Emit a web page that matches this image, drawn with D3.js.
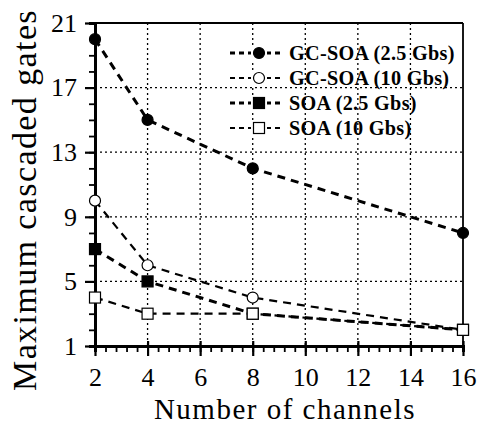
<!DOCTYPE html>
<html><head><meta charset="utf-8">
<script src="https://cdn.jsdelivr.net/npm/d3@7"></script>
<style>body{margin:0;background:#fff}</style>
</head><body>
<svg id="c" width="477" height="424"></svg>
<script>
const channels = [2, 4, 8, 16];
const gcSoa25 = [20, 15, 12, 8];
const gcSoa10 = [10, 6, 4, 2];
const soa25 = [7, 5, 3, 2];
const soa10 = [4, 3, 3, 2];
const seriesNames = ["GC-SOA (2.5 Gbs)", "GC-SOA (10 Gbs)", "SOA (2.5 Gbs)", "SOA (10 Gbs)"];
const xTicks = [2, 4, 6, 8, 10, 12, 14, 16];
const yTicks = [1, 5, 9, 13, 17, 21];

const series = [
  {name: seriesNames[0], vals: gcSoa25, shape: "circle", fill: "#000", w: 3},
  {name: seriesNames[1], vals: gcSoa10, shape: "circle", fill: "#fff", w: 2.2},
  {name: seriesNames[2], vals: soa25, shape: "square", fill: "#000", w: 3},
  {name: seriesNames[3], vals: soa10, shape: "square", fill: "#fff", w: 2.2}
];

const svg = d3.select("#c");
const L = 95, R = 463, T = 23, B = 346;
const x = d3.scaleLinear().domain([2, 16]).range([L, R]);
const y = d3.scaleLinear().domain([1, 21]).range([B, T]);
const font = "'Liberation Serif','Times New Roman',serif";

// grid
const g = svg.append("g");
g.selectAll(".gx").data(xTicks.slice(1, -1)).enter().append("line")
  .attr("x1", d => x(d)).attr("x2", d => x(d)).attr("y1", T).attr("y2", B)
  .attr("stroke", "#000").attr("stroke-width", 1.3).attr("stroke-dasharray", "2,3");
g.selectAll(".gy").data(yTicks.slice(1, -1)).enter().append("line")
  .attr("y1", d => y(d)).attr("y2", d => y(d)).attr("x1", L).attr("x2", R)
  .attr("stroke", "#000").attr("stroke-width", 1.3).attr("stroke-dasharray", "2,3");

// frame
svg.append("line").attr("x1", L).attr("x2", R).attr("y1", T).attr("y2", T)
  .attr("stroke", "#000").attr("stroke-width", 2.2);
svg.append("line").attr("x1", R).attr("x2", R).attr("y1", T).attr("y2", B)
  .attr("stroke", "#000").attr("stroke-width", 1.8);

// axes
const xMinor = d3.range(2, 16.001, 0.4);
const yMinor = d3.range(1, 21.001, 1);
const xa = svg.append("g").attr("transform", `translate(0,${B})`)
  .call(d3.axisBottom(x).tickValues(xMinor).tickSize(6).tickFormat(""));
xa.select(".domain").attr("stroke-width", 3);
xa.selectAll(".tick line").attr("stroke-width", 1.8);
const xb = svg.append("g").attr("transform", `translate(0,${B})`)
  .call(d3.axisBottom(x).tickValues(xTicks).tickSize(10).tickPadding(12));
xb.select(".domain").remove();
xb.selectAll(".tick line").attr("y1", -5).attr("stroke-width", 2.2);
xb.selectAll("text").attr("font-family", font).attr("font-size", 26).attr("fill", "#000");

const ya = svg.append("g").attr("transform", `translate(${L},0)`)
  .call(d3.axisLeft(y).tickValues(yMinor).tickSize(6).tickFormat(""));
ya.select(".domain").attr("stroke-width", 3);
ya.selectAll(".tick line").attr("stroke-width", 1.8);
const yb = svg.append("g").attr("transform", `translate(${L},0)`)
  .call(d3.axisLeft(y).tickValues(yTicks).tickSize(10).tickPadding(8));
yb.select(".domain").remove();
yb.selectAll(".tick line").attr("stroke-width", 2.2);
yb.selectAll("text").attr("font-family", font).attr("font-size", 26).attr("fill", "#000");

// titles
svg.append("text").attr("x", 285).attr("y", 419).attr("text-anchor", "middle")
  .attr("font-family", font).attr("font-size", 29).attr("letter-spacing", 1.5)
  .text("Number of channels");
svg.append("text").attr("transform", `translate(36,200) rotate(-90)`)
  .attr("text-anchor", "middle").attr("font-family", font).attr("font-size", 34)
  .attr("letter-spacing", 1.4).text("Maximum cascaded gates");

// series
const line = d3.line().x(d => x(d[0])).y(d => y(d[1]));
function marker(sel, shape, fill, cx, cy) {
  if (shape === "circle") {
    sel.append("circle").attr("cx", cx).attr("cy", cy).attr("r", 5.5)
      .attr("fill", fill).attr("stroke", "#000").attr("stroke-width", 1.2);
  } else {
    sel.append("rect").attr("x", cx - 5.5).attr("y", cy - 5.5).attr("width", 11).attr("height", 11)
      .attr("fill", fill).attr("stroke", "#000").attr("stroke-width", 1.2);
  }
}
series.forEach(s => {
  const pts = channels.map((c, i) => [c, s.vals[i]]);
  svg.append("path").attr("d", line(pts)).attr("fill", "none").attr("stroke", "#000")
    .attr("stroke-width", s.w).attr("stroke-dasharray", "8,6");
});
series.forEach(s => {
  const mg = svg.append("g");
  channels.forEach((c, i) => marker(mg, s.shape, s.fill, x(c), y(s.vals[i])));
});

// legend
const lg = svg.append("g");
series.forEach((s, i) => {
  const cy = 53 + i * 25;
  lg.append("line").attr("x1", 230).attr("x2", 284).attr("y1", cy).attr("y2", cy)
    .attr("stroke", "#000").attr("stroke-width", s.w).attr("stroke-dasharray", "5,4");
  lg.append("rect").attr("x", 251).attr("y", cy - 8).attr("width", 16).attr("height", 16).attr("fill", "#fff");
  marker(lg, s.shape, s.fill, 259, cy);
  lg.append("text").attr("transform", `translate(289,${cy + 7}) scale(0.92,1)`)
    .attr("font-family", font).attr("font-weight", "bold").attr("font-size", 22)
    .attr("letter-spacing", 0.3).text(s.name);
});
</script>
</body></html>
